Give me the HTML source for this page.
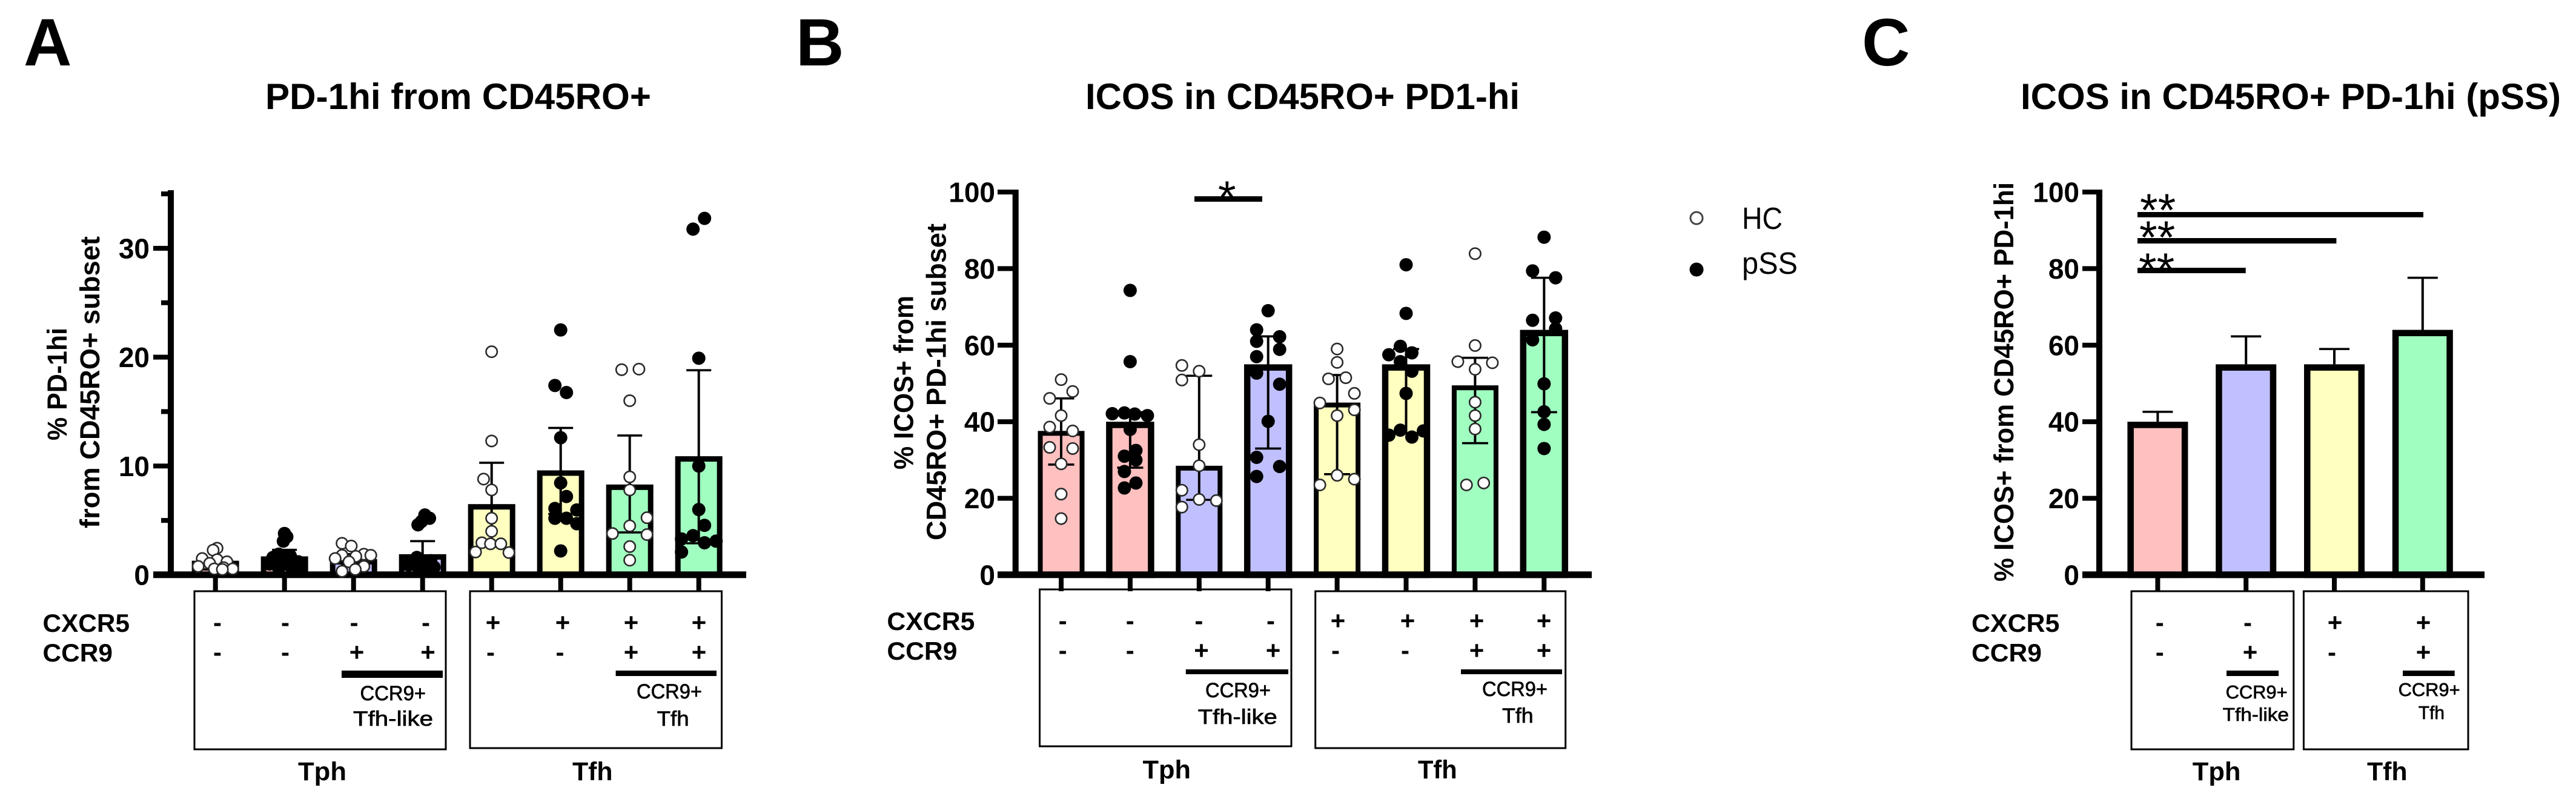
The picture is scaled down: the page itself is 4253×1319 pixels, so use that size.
<!DOCTYPE html>
<html lang="en">
<head>
<meta charset="utf-8">
<title>PD-1hi and ICOS in CD45RO+ subsets</title>
<style>
html,body{margin:0;padding:0;background:#fff;}
svg{display:block;}
text{font-family:"Liberation Sans",Arial,sans-serif;fill:#000;}
.b{font-weight:700;}
.pm{font-weight:700;font-size:42px;text-anchor:middle;}
.row{font-weight:700;font-size:42px;}
.sub{font-weight:400;font-size:34px;stroke:#000;stroke-width:.7px;}
.grp{font-weight:700;font-size:43px;}
.title{font-weight:700;font-size:60px;}
.letter{font-weight:700;font-size:110px;}
.yl{font-weight:700;font-size:45px;}
.star{font-weight:400;font-size:76px;}
.box{fill:none;stroke:#000;stroke-width:3;}
</style>
</head>
<body>
<svg id="figure" xmlns="http://www.w3.org/2000/svg" width="4253" height="1319" viewBox="0 0 4253 1319">
<rect x="0" y="0" width="4253" height="1319" fill="#fff"/>

<!-- Panel letters and titles -->
<text class="letter" x="39" y="108">A</text>
<text class="letter" x="1314" y="108">B</text>
<text class="letter" x="3074" y="108">C</text>
<text class="title" x="438" y="180" textLength="637" lengthAdjust="spacingAndGlyphs">PD-1hi from CD45RO+</text>
<text class="title" x="1792" y="180" textLength="717" lengthAdjust="spacingAndGlyphs">ICOS in CD45RO+ PD1-hi</text>
<text class="title" x="3336" y="180" textLength="892" lengthAdjust="spacingAndGlyphs">ICOS in CD45RO+ PD-1hi (pSS)</text>

<!-- Y axis titles -->
<text class="yl" transform="translate(110,727) rotate(-90)" textLength="186" lengthAdjust="spacingAndGlyphs">% PD-1hi</text>
<text class="yl" transform="translate(164,872) rotate(-90)" textLength="482" lengthAdjust="spacingAndGlyphs">from CD45RO+ subset</text>
<text class="yl" transform="translate(1507.5,775) rotate(-90)" textLength="287" lengthAdjust="spacingAndGlyphs">% ICOS+ from</text>
<text class="yl" transform="translate(1561.5,892) rotate(-90)" textLength="523" lengthAdjust="spacingAndGlyphs">CD45RO+ PD-1hi subset</text>
<text class="yl" transform="translate(3324,960) rotate(-90)" textLength="659" lengthAdjust="spacingAndGlyphs">% ICOS+ from CD45RO+ PD-1hi</text>

<!-- Panel A annotation table -->
<rect class="box" x="321" y="976" width="415" height="261"/>
<rect class="box" x="776" y="976" width="415.5" height="259"/>
<text class="row" x="70.5" y="1043" textLength="143.5" lengthAdjust="spacingAndGlyphs">CXCR5</text>
<text class="row" x="70.5" y="1092" textLength="115.5" lengthAdjust="spacingAndGlyphs">CCR9</text>
<g>
<text class="pm" x="359" y="1042">-</text><text class="pm" x="471" y="1042">-</text><text class="pm" x="584.6" y="1042">-</text><text class="pm" x="703" y="1042">-</text>
<text class="pm" x="814" y="1042">+</text><text class="pm" x="929" y="1042">+</text><text class="pm" x="1042" y="1042">+</text><text class="pm" x="1154" y="1042">+</text>
</g>
<g>
<text class="pm" x="359" y="1091">-</text><text class="pm" x="471" y="1091">-</text><text class="pm" x="589" y="1091">+</text><text class="pm" x="706.5" y="1091">+</text>
<text class="pm" x="810" y="1091">-</text><text class="pm" x="924.5" y="1091">-</text><text class="pm" x="1042" y="1091">+</text><text class="pm" x="1154" y="1091">+</text>
</g>
<rect x="564" y="1107" width="167" height="12" fill="#000"/>
<rect x="1016.6" y="1107" width="166.4" height="9" fill="#000"/>
<text class="sub" x="594.5" y="1156" textLength="108.5" lengthAdjust="spacingAndGlyphs">CCR9+</text>
<text class="sub" x="583" y="1198" textLength="132" lengthAdjust="spacingAndGlyphs">Tfh-like</text>
<text class="sub" x="1051" y="1153" textLength="108" lengthAdjust="spacingAndGlyphs">CCR9+</text>
<text class="sub" x="1084.6" y="1198" textLength="53" lengthAdjust="spacingAndGlyphs">Tfh</text>
<text class="grp" x="492" y="1288" textLength="80" lengthAdjust="spacingAndGlyphs">Tph</text>
<text class="grp" x="945" y="1288" textLength="66.5" lengthAdjust="spacingAndGlyphs">Tfh</text>

<!-- Panel B annotation table -->
<rect class="box" x="1716.5" y="973" width="415.5" height="259"/>
<rect class="box" x="2171.7" y="976" width="413" height="259"/>
<text class="row" x="1464.4" y="1040" textLength="145" lengthAdjust="spacingAndGlyphs">CXCR5</text>
<text class="row" x="1464.4" y="1089" textLength="116" lengthAdjust="spacingAndGlyphs">CCR9</text>
<g>
<text class="pm" x="1754.6" y="1039">-</text><text class="pm" x="1865.8" y="1039">-</text><text class="pm" x="1979.4" y="1039">-</text><text class="pm" x="2098" y="1039">-</text>
<text class="pm" x="2209" y="1039">+</text><text class="pm" x="2324" y="1039">+</text><text class="pm" x="2438" y="1039">+</text><text class="pm" x="2549" y="1039">+</text>
</g>
<g>
<text class="pm" x="1754.6" y="1088">-</text><text class="pm" x="1865.8" y="1088">-</text><text class="pm" x="1983.5" y="1088">+</text><text class="pm" x="2102" y="1088">+</text>
<text class="pm" x="2205" y="1088">-</text><text class="pm" x="2320" y="1088">-</text><text class="pm" x="2438" y="1088">+</text><text class="pm" x="2549" y="1088">+</text>
</g>
<rect x="1957.8" y="1105" width="169.2" height="8" fill="#000"/>
<rect x="2412" y="1105" width="167" height="8" fill="#000"/>
<text class="sub" x="1990" y="1151" textLength="108" lengthAdjust="spacingAndGlyphs">CCR9+</text>
<text class="sub" x="1977.7" y="1195" textLength="131" lengthAdjust="spacingAndGlyphs">Tfh-like</text>
<text class="sub" x="2447" y="1149" textLength="108" lengthAdjust="spacingAndGlyphs">CCR9+</text>
<text class="sub" x="2480" y="1193" textLength="51.6" lengthAdjust="spacingAndGlyphs">Tfh</text>
<text class="grp" x="1886.5" y="1285" textLength="79.5" lengthAdjust="spacingAndGlyphs">Tph</text>
<text class="grp" x="2341" y="1285" textLength="64.6" lengthAdjust="spacingAndGlyphs">Tfh</text>
<rect x="1972" y="324" width="112" height="9" fill="#000"/>
<text class="star" x="2025.8" y="352" text-anchor="middle">*</text>

<!-- Legend -->
<g>
<circle cx="2801" cy="360" r="10" fill="#fff" stroke="#444" stroke-width="3"/>
<text x="2876" y="378" font-size="51" textLength="67" lengthAdjust="spacingAndGlyphs">HC</text>
<circle cx="2801" cy="445" r="11.5" fill="#000"/>
<text x="2876" y="452" font-size="51" textLength="92" lengthAdjust="spacingAndGlyphs">pSS</text>
</g>

<!-- Panel C annotation table -->
<rect class="box" x="3519" y="976" width="267.8" height="261"/>
<rect class="box" x="3803.4" y="976" width="271.6" height="261"/>
<text class="row" x="3255" y="1043" textLength="145.4" lengthAdjust="spacingAndGlyphs">CXCR5</text>
<text class="row" x="3255" y="1092" textLength="116" lengthAdjust="spacingAndGlyphs">CCR9</text>
<g>
<text class="pm" x="3565.8" y="1042">-</text><text class="pm" x="3711" y="1042">-</text><text class="pm" x="3855" y="1042">+</text><text class="pm" x="4001" y="1042">+</text>
</g>
<g>
<text class="pm" x="3565.8" y="1091">-</text><text class="pm" x="3715" y="1091">+</text><text class="pm" x="3850" y="1091">-</text><text class="pm" x="4001" y="1091">+</text>
</g>
<rect x="3676" y="1107" width="86" height="9" fill="#000"/>
<rect x="3967" y="1107" width="85.7" height="9" fill="#000"/>
<text class="sub" x="3674.6" y="1153" font-size="31" style="font-size:31px" textLength="102" lengthAdjust="spacingAndGlyphs">CCR9+</text>
<text class="sub" x="3669.6" y="1190" style="font-size:31px" textLength="109.4" lengthAdjust="spacingAndGlyphs">Tfh-like</text>
<text class="sub" x="3959.6" y="1149" style="font-size:31px" textLength="102" lengthAdjust="spacingAndGlyphs">CCR9+</text>
<text class="sub" x="3992.9" y="1187" style="font-size:31px" textLength="43" lengthAdjust="spacingAndGlyphs">Tfh</text>
<text class="grp" x="3619.8" y="1288" textLength="79.7" lengthAdjust="spacingAndGlyphs">Tph</text>
<text class="grp" x="3908" y="1288" textLength="66.6" lengthAdjust="spacingAndGlyphs">Tfh</text>
<rect x="3529" y="350" width="472" height="8.7" fill="#000"/>
<rect x="3529" y="393" width="328.4" height="9" fill="#000"/>
<rect x="3529" y="442" width="178.7" height="9" fill="#000"/>
<text class="star" x="3533" y="373">**</text>
<text class="star" x="3532" y="418">**</text>
<text class="star" x="3531" y="471">**</text>

<g id="marks"></g>
</svg>

<script>
// ---------- Shared category data ----------
const fillsEight = ['#ffc0c0', '#ffc0c0', '#c0c0ff', '#c0c0ff', '#ffffc0', '#ffffc0', '#a0ffc0', '#a0ffc0'];
const fillsFour = ['#ffc0c0', '#c0c0ff', '#ffffc0', '#a0ffc0'];
const cohortsEight = ['HC', 'pSS', 'HC', 'pSS', 'HC', 'pSS', 'HC', 'pSS'];
const categoriesEight = ['tph-ccr9neg-hc', 'tph-ccr9neg-pss', 'tph-ccr9pos-hc', 'tph-ccr9pos-pss', 'tfh-ccr9neg-hc', 'tfh-ccr9neg-pss', 'tfh-ccr9pos-hc', 'tfh-ccr9pos-pss'];
const categoriesFour = ['tph-ccr9neg', 'tph-ccr9pos', 'tfh-ccr9neg', 'tfh-ccr9pos'];

// ---------- Panel A: % PD-1hi ----------
const tickLabelsA = [0, 10, 20, 30];
const minorTicksA = [5, 15, 25, 35];
const meansA = [1.3, 1.7, 1.45, 1.9, 6.5, 9.6, 8.3, 10.9];
const errUpperA = [1.5, 2.3, 1.9, 3.1, 10.3, 13.5, 12.8, 18.8];
const errLowerA = [0.5, 0.7, 0.9, 0.5, 2.8, 5.6, 3.9, 2.9];
const pointsA = [
  [2.45, 2.27, 1.5, 1.4, 1.2, 1.06, 0.78, 0.67, 0.55, 0.55, 0.5],
  [3.8, 3.5, 3.1, 1.9, 1.75, 1.6, 1.4, 1.2, 1.0, 0.8, 0.6, 0.5],
  [2.9, 2.65, 1.9, 1.8, 1.8, 1.7, 1.5, 1.2, 0.78, 0.5, 0.33],
  [5.5, 5.2, 4.9, 4.6, 1.6, 1.3, 1.0, 0.9, 0.7, 0.5, 0.5],
  [20.5, 12.3, 8.8, 7.8, 5.2, 4.0, 2.95, 2.85, 2.85, 2.1, 2.05],
  [22.5, 17.4, 16.75, 12.6, 8.45, 7.2, 6.1, 5.96, 5.2, 5.2, 4.7, 2.2],
  [18.85, 18.9, 16, 9, 7.8, 5.25, 4.5, 3.8, 3.7, 2.6, 1.35],
  [32.75, 31.76, 19.9, 10, 6, 4.55, 3.6, 3.3, 2.95, 3.1, 2.1]
];
const swarmColumnsA = [
  [0.14, -0.2, -1.15, 0.15, 1, -0.5, -1.5, 0.7, -0.1, 1.5, 0.6],
  [0, 0.2, -0.1, -0.5, 0.5, -1, 0, 1.2, -1.3, 0.5, -0.5, 1.4],
  [-1, -0.2, 0.9, -1, 1.5, 0.2, -1.6, -0.4, 0.9, 0.15, -1],
  [0.2, 0.6, -0.1, -0.4, -0.5, 0.7, 0, -1.2, 1, -0.3, 0.3],
  [0, 0, -0.7, 0, 0, 0, -0.85, -0.1, 0.8, -1.4, 1.5],
  [0, -0.5, 0.5, 0, 0, 0.5, -0.5, 1.4, 0.5, -0.5, 1.4, 0],
  [-0.7, 0.8, 0, 0, 0, 1.5, 0, -1.5, 1.5, 0, 0],
  [0.5, -0.5, 0, 0, 0, 0.5, -0.5, -1.5, 0.5, 1.5, -1.5]
];

// ---------- Panel B: % ICOS+ by cohort ----------
const tickLabelsB = [0, 20, 40, 60, 80, 100];
const meansB = [37.6, 40, 28.5, 55, 45, 55, 49.5, 64];
const errUpperB = [46.1, 42.5, 52, 62.3, 52.2, 59, 56.7, 77.6];
const errLowerB = [28.8, 28, 19.6, 33, 26.3, 37, 34.4, 42.5];
const pointsB = [
  [51, 47.9, 46.1, 41.6, 38.6, 37.6, 33.3, 33, 29, 21.1, 14.7],
  [74.3, 55.7, 42.1, 42.3, 41.6, 42, 38, 32.5, 31, 30, 27, 22.7, 24],
  [54.7, 53.2, 50.9, 34, 28.5, 22.1, 19.7, 19.4, 17.7],
  [69, 64, 62.2, 61, 58.9, 57, 52.7, 49.8, 40.1, 30.7, 28.3, 25.7],
  [59, 55.5, 51.2, 51.5, 47.4, 44.9, 43.1, 41.6, 26, 25, 23.5],
  [81, 68.3, 59.7, 57.5, 58, 55.7, 53.2, 47.4, 36.5, 37.8, 37.6, 36],
  [83.9, 59.9, 55.7, 55.4, 53.7, 45.1, 41.6, 38.1, 23.5, 24],
  [88.2, 79.4, 77.6, 66.5, 67.1, 64.3, 61.4, 49.9, 42.6, 39.3, 33]
];
const swarmColumnsB = [
  [0, 1, -1, 0, -1, 1, -1, 1, 0, 0, 0],
  [0, 0, -1.55, -0.5, 1.5, 0.4, 0, 0.5, -0.5, 0.5, -0.5, -0.5, 0.5],
  [-1.5, 0, -1.5, 0, 0, -1.5, 0, 1.5, -1.5],
  [0, -1, 1, -1, 1, -1, -1, 1, 0, -1, 1, -1],
  [0, 0, -0.75, 0.75, 1.5, -1.5, 1.5, 0, 0, 1.5, -1.5],
  [0, 0, -0.5, -1.5, 0.5, -0.5, 0.5, 0, -1.5, -0.5, 1.5, 0.5],
  [0, 0, -1.5, 1.5, 0, 0, 0, 0, -0.75, 0.75],
  [0, -1, 1, -1, 1, 1, -1, 0, 0, 0, 0]
];

// ---------- Panel C: % ICOS+ in pSS ----------
const tickLabelsC = [0, 20, 40, 60, 80, 100];
const meansC = [40, 55, 55, 64];
const errUpperC = [42.6, 62.3, 59, 77.6];

// ---------- Axis functions ----------
function linearY(zeroPx, pxPerUnit) {
  return function (v) { return zeroPx - v * pxPerUnit; };
}
function bandX(firstCentre, step) {
  return function (i) { return firstCentre + i * step; };
}
const yA = linearY(949, 17.97);
const xA = bandX(355.7, 114);
const yB = linearY(949, 6.32);
const xB = bandX(1752, 113.9);
const yC = linearY(949, 6.32);
const xC = bandX(3562.4, 145.8);

const SVGNS = 'http://www.w3.org/2000/svg';
const marksRoot = document.getElementById('marks');
function shape(tag, attrs, parent) {
  const node = document.createElementNS(SVGNS, tag);
  for (const k in attrs) node.setAttribute(k, attrs[k]);
  (parent || marksRoot).appendChild(node);
  return node;
}

function drawAxes(prefix, cfg, majorTicks, minorTicks, categories) {
  const g = shape('g', {});
  
  

  const yLine = shape('rect', { x: cfg.axisX - 5, y: cfg.axisTop, width: 10, height: cfg.y(0) - cfg.axisTop + 5, fill: '#000' }, g);
  
  

  const xLine = shape('rect', { x: cfg.axisLeft, y: cfg.y(0) - 5.7, width: cfg.axisRight - cfg.axisLeft, height: 11, fill: '#000' }, g);
  
  

  majorTicks.forEach(function (v) {
    const tick = shape('rect', { x: cfg.axisLeft, y: cfg.y(v) - 4, width: cfg.axisX - cfg.axisLeft, height: 8, fill: '#000' }, g);
    
    

    const label = shape('text', { x: cfg.labelRight, y: cfg.y(v) + 16.5, 'text-anchor': 'end', 'font-size': 46, 'font-weight': 700 }, g);
    label.textContent = String(v);
    
    
  });

  minorTicks.forEach(function (v) {
    const tick = shape('rect', { x: cfg.axisX - 16, y: cfg.y(v) - 4, width: 16, height: 8, fill: '#000' }, g);
    
    
  });

  categories.forEach(function (c, i) {
    const tick = shape('rect', { x: cfg.x(i) - 4, y: cfg.y(0), width: 8, height: 27, fill: '#000' }, g);
    
    
  });
}

function drawBar(prefix, cfg, category, i, mean, fill, outerW, strokeW) {
  const left = cfg.x(i) - outerW / 2 + strokeW / 2;
  const top = cfg.y(mean) + strokeW / 2;
  const bar = shape('rect', { x: left, y: top, width: outerW - strokeW, height: cfg.y(0) - top, fill: fill, stroke: '#000', 'stroke-width': strokeW });
  
  
}

function drawError(prefix, cfg, category, i, upper, lower, capW) {
  const cx = cfg.x(i);
  const bottom = lower === null ? upper : lower;
  const g = shape('g', {});
  
  
  const stemEnd = lower === null ? cfg.y(cfg.stemBase[i]) : cfg.y(bottom);
  shape('line', { x1: cx, x2: cx, y1: cfg.y(upper), y2: stemEnd, stroke: '#000', 'stroke-width': 4 }, g);
  shape('line', { x1: cx - capW / 2, x2: cx + capW / 2, y1: cfg.y(upper), y2: cfg.y(upper), stroke: '#000', 'stroke-width': 3.6 }, g);
  if (lower !== null) {
    shape('line', { x1: cx - capW / 2, x2: cx + capW / 2, y1: cfg.y(lower), y2: cfg.y(lower), stroke: '#000', 'stroke-width': 3.6 }, g);
  }
}

function drawPoints(prefix, cfg, category, i, values, columns, cohort) {
  const g = shape('g', {});
  
  
  values.forEach(function (v, j) {
    const cx = cfg.x(i) + columns[j] * 19;
    const dot = cohort === 'HC'
      ? shape('circle', { cx: cx, cy: cfg.y(v), r: 9.2, fill: '#fff', stroke: '#2a2a2a', 'stroke-width': 2.6 }, g)
      : shape('circle', { cx: cx, cy: cfg.y(v), r: 11, fill: '#000' }, g);
    
    
  });
}

// ---------- Panel geometry (axis mapping only) ----------
const cfgA = { x: xA, y: yA, axisX: 282, axisTop: 314, axisLeft: 253, axisRight: 1232, labelRight: 247 };
const cfgB = { x: xB, y: yB, axisX: 1676.7, axisTop: 313, axisLeft: 1647, axisRight: 2628, labelRight: 1643 };
const cfgC = { x: xC, y: yC, axisX: 3466, axisTop: 313, axisLeft: 3438, axisRight: 4102, labelRight: 3433, stemBase: meansC };

// Panel A
categoriesEight.forEach(function (c, i) {
  drawBar('panel-a', cfgA, c, i, meansA[i], fillsEight[i], 78, 9);
});
drawAxes('panel-a', cfgA, tickLabelsA, minorTicksA, categoriesEight);
categoriesEight.forEach(function (c, i) {
  drawError('panel-a', cfgA, c, i, errUpperA[i], errLowerA[i], 41);
});
categoriesEight.forEach(function (c, i) {
  drawPoints('panel-a', cfgA, c, i, pointsA[i], swarmColumnsA[i], cohortsEight[i]);
});

// Panel B
categoriesEight.forEach(function (c, i) {
  const isPss = cohortsEight[i] === 'pSS';
  drawBar('panel-b', cfgB, c, i, meansB[i], fillsEight[i], isPss ? 79.5 : 77, isPss ? 10.5 : 8);
});
drawAxes('panel-b', cfgB, tickLabelsB, [], categoriesEight);
categoriesEight.forEach(function (c, i) {
  drawError('panel-b', cfgB, c, i, errUpperB[i], errLowerB[i], 43);
});
categoriesEight.forEach(function (c, i) {
  drawPoints('panel-b', cfgB, c, i, pointsB[i], swarmColumnsB[i], cohortsEight[i]);
});

// Panel C
categoriesFour.forEach(function (c, i) {
  drawError('panel-c', cfgC, c, i, errUpperC[i], null, 50);
});
categoriesFour.forEach(function (c, i) {
  drawBar('panel-c', cfgC, c, i, meansC[i], fillsFour[i], 100, 10.5);
});
drawAxes('panel-c', cfgC, tickLabelsC, [], categoriesFour);
</script>
</body>
</html>
